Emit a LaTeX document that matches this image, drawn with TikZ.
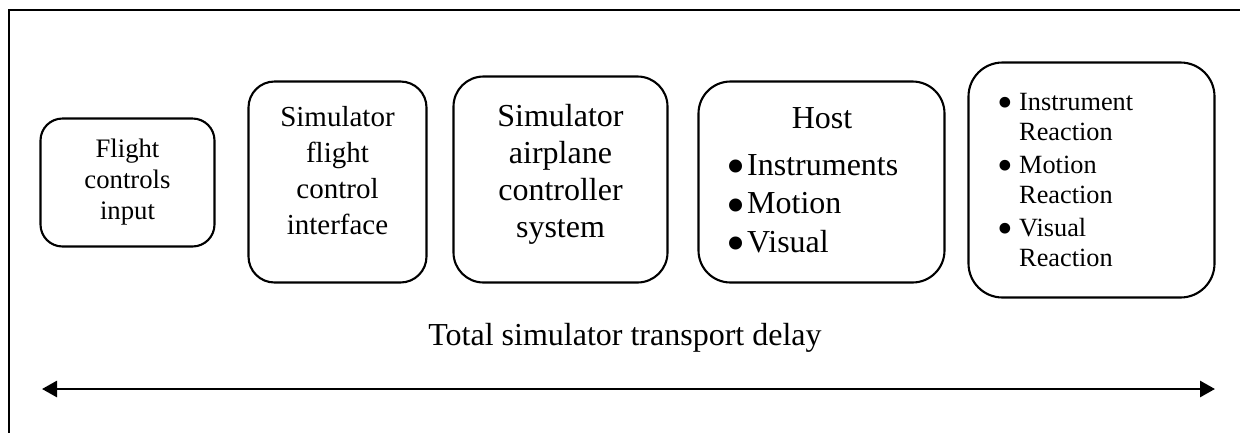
\documentclass[tikz,border=0pt]{standalone}
\usepackage{fontspec}
\usepackage{graphicx}
\setmainfont{Liberation Serif}
\usetikzlibrary{arrows.meta}
\newcommand\bigbul{\smash{\raisebox{-0.30em}{\scalebox{1.7}{•}}}}
\begin{document}
\begin{tikzpicture}[x=1pt,y=-1pt,
  rbox/.style={draw, line width=2.1pt, rounded corners=#1, inner sep=0pt},
  txt/.style={inner sep=0pt, align=center},
  fa/.style={font=\fontsize{26.7}{31}\selectfont},
  fb/.style={font=\fontsize{29}{36}\selectfont},
  fc/.style={font=\fontsize{32}{37}\selectfont},
  fd/.style={font=\fontsize{32}{38.5}\selectfont},
  fe/.style={font=\fontsize{26.3}{30}\selectfont},
  dblarrow/.style={line width=2.8pt, {Triangle[length=15pt,width=16pt]}-{Triangle[length=15pt,width=16pt]}}]
\useasboundingbox (0,0) rectangle (1240,432);
% outer frame (left and top edges only visible)
\draw[line width=2.1pt] (9,434) -- (9,10) -- (1242,10);
% boxes
\node[rbox=22pt, minimum width=174pt, minimum height=128pt] (b1) at (127.5,182.5) {};
\node[rbox=26pt, minimum width=178pt, minimum height=201pt] (b2) at (337.5,182) {};
\node[rbox=30pt, minimum width=214pt, minimum height=206pt] (b3) at (560.5,179.5) {};
\node[rbox=32pt, minimum width=246pt, minimum height=201pt] (b4) at (821.5,182) {};
\node[rbox=34pt, minimum width=246pt, minimum height=235pt] (b5) at (1091.5,180) {};
% texts
\node[txt, fa] (t1) at (b1.center) {Flight\\controls\\input};
\node[txt, fb, anchor=north] (t2) at (337.5,106) {Simulator\\flight\\control\\interface};
\node[txt, fc, anchor=north] (t3) at (560.5,104) {Simulator\\airplane\\controller\\system};
\node[txt, fc, anchor=base] (t4h) at (822,128) {Host};
\node[inner sep=0pt, fd, anchor=base west] (t4l) at (726.5,175)
  {\begin{tabular}[t]{@{}l@{}}\makebox[20.5pt][l]{\bigbul}Instruments\\\makebox[20.5pt][l]{\bigbul}Motion\\\makebox[20.5pt][l]{\bigbul}Visual\end{tabular}};
\node[inner sep=0pt, fe, anchor=base west] (t5) at (997,110)
  {\begin{tabular}[t]{@{}l@{}}\makebox[22pt][l]{\bigbul}Instrument\\\hspace{22pt}Reaction\\[3pt]\makebox[22pt][l]{\bigbul}Motion\\\hspace{22pt}Reaction\\[3pt]\makebox[22pt][l]{\bigbul}Visual\\\hspace{22pt}Reaction\end{tabular}};
\node[txt, fc, anchor=base] (lbl) at (625,345) {Total simulator transport delay};
% double arrow
\coordinate (aL) at (42,389);
\coordinate (aR) at (1215,389);
\draw[dblarrow] (aL) -- (aR);
\end{tikzpicture}
\end{document}
